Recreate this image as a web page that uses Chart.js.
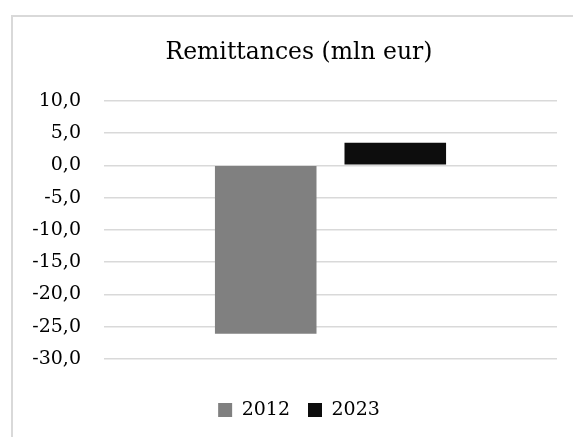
<!DOCTYPE html>
<html>
<head>
<meta charset="utf-8">
<script src="https://cdn.jsdelivr.net/npm/chart.js@4/dist/chart.umd.min.js"></script>
<style>
  html, body { margin: 0; padding: 0; background: #fff; overflow: hidden; }
  #frame {
    position: absolute; left: 11px; top: 15px;
    width: 600px; height: 460px;
    border-top: 2px solid #d9d9d9;
    border-left: 2px solid #d9d9d9;
  }
  #chart { position: absolute; left: 0; top: 0; }
</style>
</head>
<body>
<div id="frame"><canvas id="chart" width="572" height="440"></canvas></div>
<script>
// ---- data ----
const categories = ['Remittances'];
const seriesNames = ['2012', '2023'];
const seriesValues = [[-26.1], [3.5]];
const seriesColors = ['#808080', '#0d0d0d'];
const yMin = -30, yMax = 10, yStep = 5;

const FONT = 'DejaVu Serif';

const ctx = document.getElementById('chart').getContext('2d');
new Chart(ctx, {
  type: 'bar',
  data: {
    labels: categories,
    datasets: seriesNames.map((name, i) => ({
      label: name,
      data: seriesValues[i],
      backgroundColor: seriesColors[i],
      borderWidth: 0,
      categoryPercentage: 0.572,
      barPercentage: 0.784,
    })),
  },
  options: {
    responsive: false,
    animation: false,
    layout: { padding: { top: 12, right: 0, bottom: 27.5, left: 0 } },
    plugins: {
      title: {
        display: true,
        text: 'Remittances (mln eur)',
        color: '#000',
        font: { family: FONT, size: 23.5, weight: 'normal' },
        padding: { top: 10, bottom: 33.5 },
      },
      legend: {
        position: 'bottom',
        labels: {
          color: '#000',
          font: { family: FONT, size: 19 },
          boxWidth: 14,
          boxHeight: 14,
          padding: 18,
        },
      },
      tooltip: { enabled: false },
    },
    scales: {
      x: {
        grid: { display: false },
        border: { display: false },
        ticks: { display: false },
        afterFit: s => { s.height = 23.5; },
      },
      y: {
        min: yMin,
        max: yMax,
        ticks: {
          stepSize: yStep,
          color: '#000',
          padding: 23,
          font: { family: FONT, size: 19 },
          callback: v => v.toFixed(1).replace('.', ','),
        },
        grid: { color: '#d9d9d9', lineWidth: 1.5, drawTicks: false },
        border: { display: false },
        afterFit: s => { s.width = 91; },
      },
      // empty spacer on the right so the plot ends before the frame centre line
      spacer: {
        type: 'linear',
        position: 'right',
        grid: { display: false },
        border: { display: false },
        ticks: { display: false },
        afterFit: s => { s.width = 28; },
      },
    },
  },
});
</script>
</body>
</html>
